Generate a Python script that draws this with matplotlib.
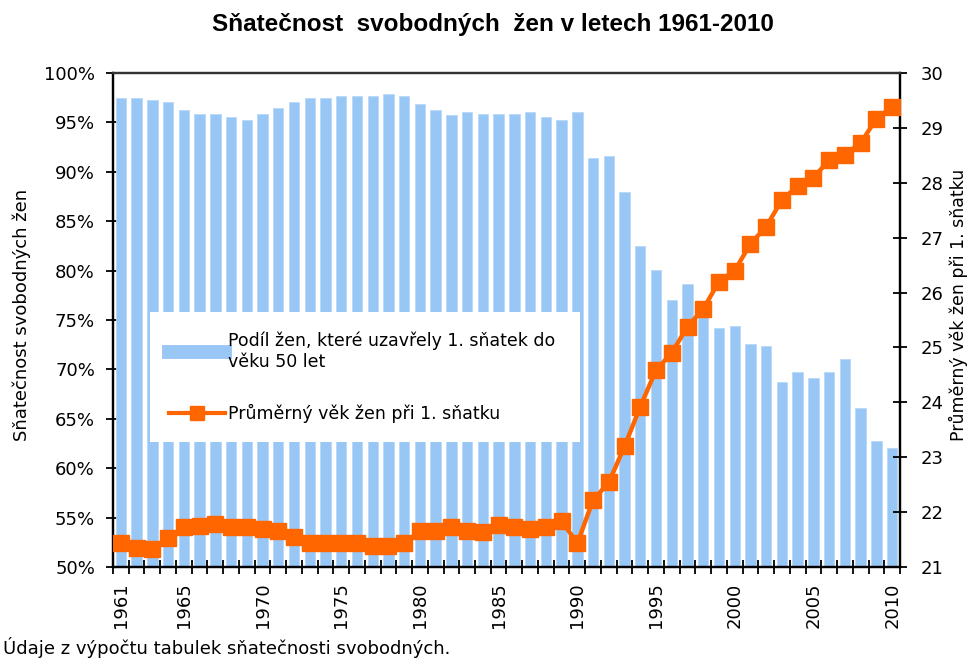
import matplotlib
matplotlib.use("Agg")
import matplotlib.pyplot as plt
from matplotlib.lines import Line2D
from matplotlib.ticker import FixedLocator, PercentFormatter

plt.rcParams['font.family'] = ['DejaVu Sans']

years = list(range(1961, 2011))
share_married = [97.5, 97.5, 97.3, 97.1, 96.3, 95.9, 95.9, 95.5, 95.2, 95.9,
                 96.5, 97.1, 97.5, 97.5, 97.7, 97.7, 97.7, 97.9, 97.7, 96.9,
                 96.3, 95.7, 96.1, 95.9, 95.9, 95.9, 96.1, 95.5, 95.2, 96.1,
                 91.4, 91.6, 88.0, 82.5, 80.1, 77.0, 78.6, 75.6, 74.2, 74.4,
                 72.6, 72.4, 68.7, 69.7, 69.1, 69.7, 71.1, 66.1, 62.8, 62.0]
mean_age = [21.43, 21.35, 21.32, 21.52, 21.72, 21.75, 21.79, 21.73, 21.73, 21.70,
            21.65, 21.55, 21.43, 21.43, 21.43, 21.43, 21.38, 21.38, 21.44, 21.65,
            21.65, 21.73, 21.66, 21.63, 21.77, 21.73, 21.69, 21.73, 21.84, 21.43,
            22.22, 22.54, 23.20, 23.92, 24.59, 24.90, 25.38, 25.70, 26.20, 26.40,
            26.89, 27.20, 27.69, 27.94, 28.09, 28.42, 28.51, 28.72, 29.17, 29.38]
labeled_years = [1961, 1965, 1970, 1975, 1980, 1985, 1990, 1995, 2000, 2005, 2010]

title = "Sňatečnost  svobodných  žen v letech 1961-2010"
left_label = "Sňatečnost svobodných žen"
right_label = "Průměrný věk žen při 1. sňatku"
bar_label = "Podíl žen, které uzavřely 1. sňatek do\nvěku 50 let"
line_label = "Průměrný věk žen při 1. sňatku"
note = "Údaje z výpočtu tabulek sňatečnosti svobodných."

blue = "#99C7F5"
orange = "#FF6600"
fs = 13

fig = plt.figure(figsize=(9.7, 6.6), dpi=100)
ax = fig.add_axes([113/970, 1-567/660, 787/970, 494/660])
x = list(range(len(years)))
ax.bar(x, share_married, width=0.66, color=blue, edgecolor="#B8D9F8", linewidth=0.6, zorder=2)
ax.set_xlim(-0.5, len(years) - 0.5)
ax.set_ylim(50, 100)
ax.set_yticks([50 + 5*i for i in range(11)])
ax.yaxis.set_major_formatter(PercentFormatter(decimals=0))

ax2 = ax.twinx()
ax2.plot(x, mean_age, color=orange, lw=3.2, marker="s", markersize=11,
         markeredgecolor=orange, zorder=3)
ax2.set_ylim(21, 30)
ax2.set_yticks(range(21, 31))

# x ticks: labels at centres, tick marks at boundaries
ax.set_xticks([years.index(y) for y in labeled_years])
ax.set_xticklabels([str(y) for y in labeled_years], rotation=90, fontsize=fs)
ax.xaxis.set_minor_locator(FixedLocator([i - 0.5 for i in range(len(years) + 1)]))
ax.tick_params(axis="x", which="major", length=0, pad=11)
ax.tick_params(axis="x", which="minor", length=10, direction="inout", width=1.3)

ax.tick_params(axis="y", which="major", length=10, direction="inout", width=1.3,
               labelsize=fs, pad=8)
ax2.tick_params(axis="y", which="major", length=10, direction="inout", width=1.3,
                labelsize=fs, pad=10)

for a in (ax, ax2):
    for s in a.spines.values():
        s.set_linewidth(1.6)
        s.set_color("black")
    a.spines["top"].set_color("#333333")

ax.set_ylabel(left_label, fontsize=fs, va="center", ha="center")
ax.yaxis.set_label_coords((22 - 113) / 787, 0.51)
ax2.set_ylabel(right_label, fontsize=12.5, rotation=90, va="center", ha="center")
ax2.yaxis.set_label_coords((958 - 113) / 787, 0.53)

fig.text(493/970, 1-25/660, title, ha="center", va="center", fontsize=17.5,
         fontweight="bold", family=["Liberation Sans", "DejaVu Sans"])
fig.text(3/970, 1-648/660, note, ha="left", va="center", fontsize=13)

handles = [Line2D([0], [0], color=blue, lw=10),
           Line2D([0], [0], color=orange, lw=3, marker="s", markersize=10)]
leg = ax2.legend(handles, [bar_label, line_label], loc="upper left",
                 bbox_to_anchor=(0.047, 0.516, 0.546, 0.0), mode="expand",
                 fontsize=12.5, frameon=True, fancybox=False, framealpha=1,
                 edgecolor="white", handlelength=3.2, handletextpad=0.2,
                 labelspacing=1.9, borderpad=1.1, borderaxespad=0)
leg.get_frame().set_linewidth(0)
for t in leg.get_texts():
    t.set_linespacing(1.25)

fig.savefig("out.png", dpi=100)
